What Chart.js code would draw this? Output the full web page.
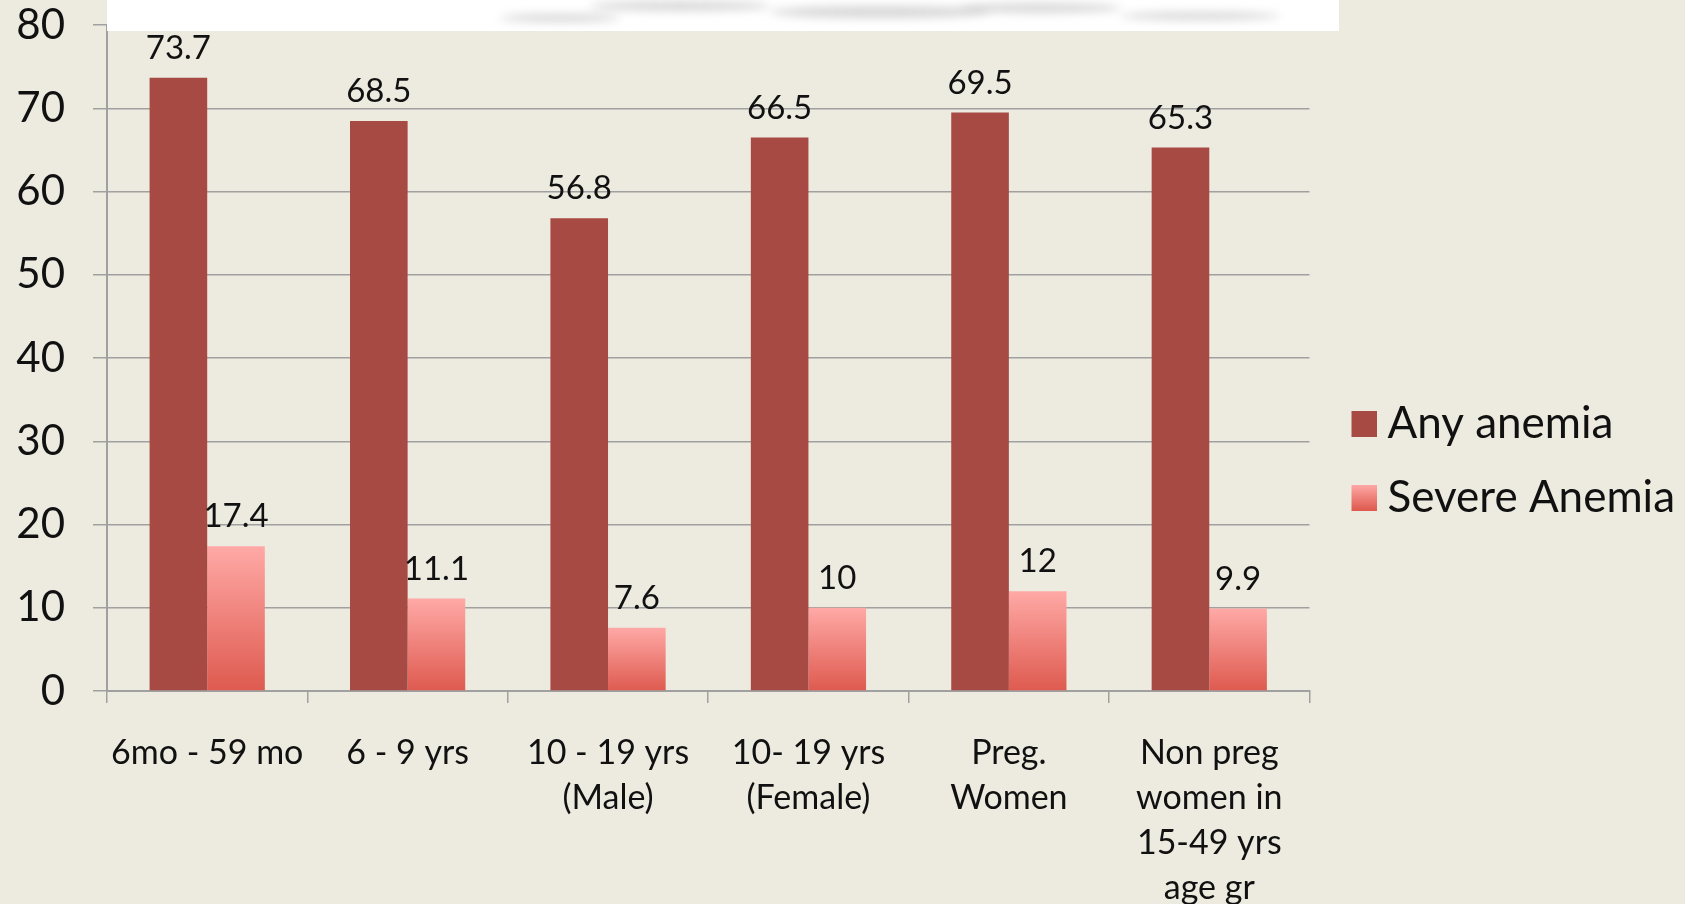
<!DOCTYPE html>
<html>
<head>
<meta charset="utf-8">
<script src="https://cdn.jsdelivr.net/npm/chart.js@4.4.1/dist/chart.umd.min.js"></script>
<style>
  html, body { margin: 0; padding: 0; background: #edebe0; }
  #anemiaChart { display: block; }
</style>
</head>
<body>
<canvas id="anemiaChart" width="1685" height="904"></canvas>
<script>
var categories = [
    ['6mo - 59 mo'],
    ['6 - 9 yrs'],
    ['10 - 19 yrs', '(Male)'],
    ['10- 19 yrs', '(Female)'],
    ['Preg.', 'Women'],
    ['Non preg', 'women in', '15-49 yrs', 'age gr']
];
var anyAnemia = [73.7, 68.5, 56.8, 66.5, 69.5, 65.3];
var severeAnemia = [17.4, 11.1, 7.6, 10, 12, 9.9];
var seriesNames = ['Any anemia', 'Severe Anemia'];
var yMin = 0, yMax = 80, yStep = 10;

var fontName = 'Lato, "Open Sans", sans-serif';
var darkRed = '#a64a43';
var pinkTop = '#ffa9a6';
var redBottom = '#de5a4f';

// legend swatch: square sits in the right part of a wider transparent canvas
function legendSwatch(fill){
    var c = document.createElement('canvas');
    c.width = 50; c.height = 26;
    var g = c.getContext('2d');
    if(fill == 'gradient'){
        var gr = g.createLinearGradient(0, 0, 0, 26);
        gr.addColorStop(0, pinkTop);
        gr.addColorStop(1, redBottom);
        g.fillStyle = gr;
    } else g.fillStyle = fill;
    g.fillRect(24, 0, 26, 26);
    return c;
}
var swatches = [legendSwatch(darkRed), legendSwatch('gradient')];

severeFill = (context) =>{
    var chart = context.chart;
    var y = chart.scales.y;
    if(context.type !== 'data' || !y || !chart.chartArea) return '#f07f77';
    var top = y.getPixelForValue(context.raw);
    var bottom = y.getPixelForValue(0);
    if(!isFinite(top) || bottom - top < 1) return redBottom;
    var gr = chart.ctx.createLinearGradient(0, top, 0, bottom);
    gr.addColorStop(0, pinkTop);
    gr.addColorStop(1, redBottom);
    return gr;
}

// value labels above each bar
var barValues = {
    id: 'barValues',
    afterDatasetsDraw(chart){
        var ctx = chart.ctx;
        ctx.save();
        ctx.font = '33px ' + fontName;
        ctx.fillStyle = '#111';
        ctx.textAlign = 'center';
        ctx.textBaseline = 'alphabetic';
        chart.data.datasets.forEach(function(ds, i){
            chart.getDatasetMeta(i).data.forEach(function(bar, j){
                ctx.fillText(String(ds.data[j]), bar.x, bar.y - 19);
            });
        });
        ctx.restore();
    }
};

// white strip pasted over the top of the slide
var topStrip = {
    id: 'topStrip',
    afterDraw(chart){
        var ctx = chart.ctx;
        var left = chart.chartArea.left;
        ctx.save();
        ctx.fillStyle = '#ffffff';
        ctx.fillRect(left, 0, 1339 - left, 31);
        ctx.filter = 'blur(5px)';
        ctx.fillStyle = 'rgba(140,140,140,0.35)';
        [[680, 6, 90, 5], [880, 12, 110, 6], [1040, 8, 80, 5], [1200, 16, 80, 4], [560, 18, 60, 4]].forEach(function(e){
            ctx.beginPath();
            ctx.ellipse(e[0], e[1], e[2], e[3], 0, 0, Math.PI * 2);
            ctx.fill();
        });
        ctx.restore();
    }
};

var config = {
    type: 'bar',
    data: {
        labels: categories,
        datasets: [{
            label: seriesNames[0],
            data: anyAnemia,
            backgroundColor: darkRed,
            borderWidth: 0,
            categoryPercentage: 0.575,
            barPercentage: 1.0
        }, {
            label: seriesNames[1],
            data: severeAnemia,
            backgroundColor: severeFill,
            borderWidth: 0,
            categoryPercentage: 0.575,
            barPercentage: 1.0
        }]
    },
    options: {
        responsive: false,
        animation: false,
        layout: { padding: { top: 17, right: 0 } },
        scales: {
            x: {
                grid: { offset: true, drawOnChartArea: false, color: '#a0a0a0', tickLength: 12, lineWidth: 1.5 },
                border: { color: '#a0a0a0', width: 2 },
                ticks: { color: '#111', padding: 28, maxRotation: 0, autoSkip: false, font: { family: fontName, size: 34, lineHeight: 1.32 } },
                afterFit: function(scale){ scale.height = 213; }
            },
            y: {
                min: yMin,
                max: yMax,
                ticks: { stepSize: yStep, color: '#111', padding: 0, font: { family: fontName, size: 42 } },
                // long tick slot, only the 14px next to the axis is drawn
                grid: { color: '#a0a0a0', tickLength: 42, tickBorderDash: [14, 28], tickBorderDashOffset: 14, lineWidth: 1.5 },
                border: { color: '#a0a0a0', width: 2 },
                afterFit: function(scale){ scale.width = 107; }
            }
        },
        plugins: {
            tooltip: { enabled: false },
            legend: {
                position: 'right',
                labels: {
                    color: '#111',
                    font: { family: fontName, size: 44 },
                    usePointStyle: true,
                    boxWidth: 26,
                    boxHeight: 26,
                    padding: 30,
                    generateLabels: function(chart){
                        var items = Chart.defaults.plugins.legend.labels.generateLabels(chart);
                        items.forEach(function(it, i){ it.pointStyle = swatches[i]; });
                        return items;
                    }
                }
            }
        }
    },
    plugins: [barValues, topStrip]
};

var AnemiaChart = new Chart(document.getElementById('anemiaChart'), config);
</script>
</body>
</html>
